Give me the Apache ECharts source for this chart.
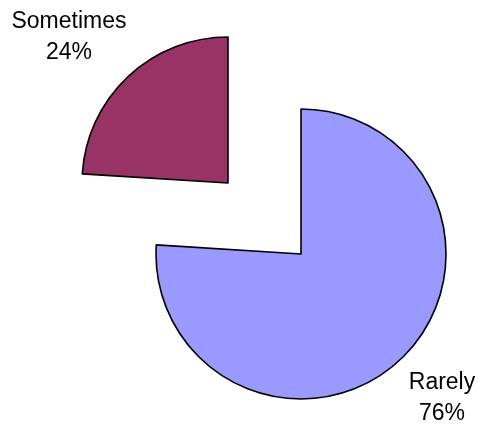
<!DOCTYPE html>
<html>
<head>
<meta charset="utf-8">
<script src="https://cdn.jsdelivr.net/npm/echarts@6/dist/echarts.min.js"></script>
<style>html,body{margin:0;padding:0;background:#fff}#c{width:478px;height:431px}</style>
</head>
<body>
<div id="c"></div>
<script>
const categories = ['Rarely', 'Sometimes'];
const values = [76, 24];
const colors = ['#9999FF', '#993366'];

function makeSeries(visibleIdx, center, radius, labelPos) {
  return {
    type: 'pie',
    center: center,
    radius: radius,
    startAngle: 90,
    clockwise: true,
    silent: true,
    animation: false,
    emphasis: { disabled: true },
    labelLine: { show: false },
    label: {
      show: true,
      position: 'inside',
      overflow: 'none',
      formatter: '{b}\n{d}%',
      fontFamily: '"Liberation Sans", Arial, sans-serif',
      fontSize: 23,
      lineHeight: 31,
      color: '#000',
      align: 'center'
    },
    labelLayout: function () {
      return { x: labelPos[0], y: labelPos[1], align: 'center', verticalAlign: 'middle' };
    },
    data: categories.map(function (name, i) {
      const vis = i === visibleIdx;
      return {
        name: name,
        value: values[i],
        itemStyle: vis
          ? { color: colors[i], borderColor: '#000', borderWidth: 1.6 }
          : { color: 'rgba(0,0,0,0)', borderWidth: 0 },
        label: { show: vis }
      };
    })
  };
}

const chart = echarts.init(document.getElementById('c'), null, { renderer: 'canvas' });
chart.setOption({
  animation: false,
  series: [
    makeSeries(0, [301, 254], 145, [442, 398]),
    makeSeries(1, [228, 183], 146, [69, 37])
  ]
});
</script>
</body>
</html>
